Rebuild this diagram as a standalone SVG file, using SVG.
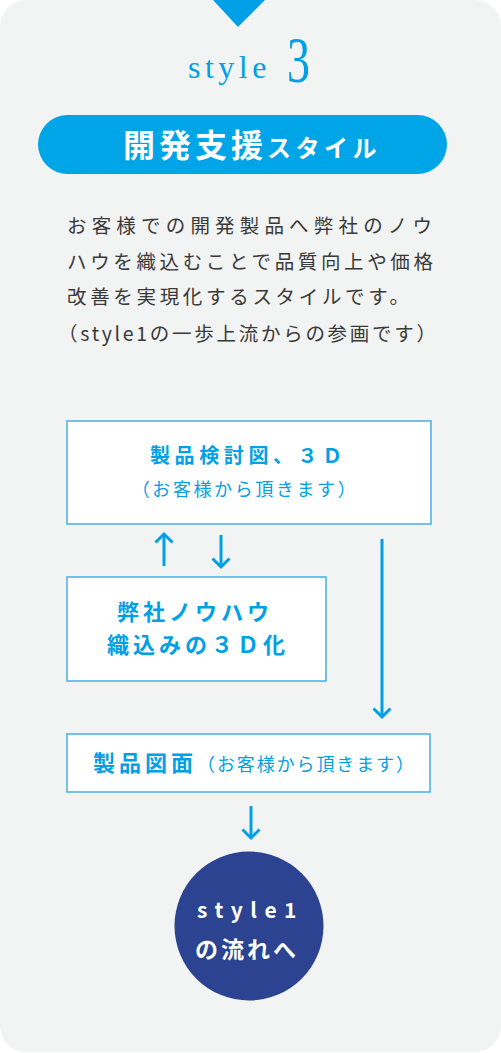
<svg xmlns="http://www.w3.org/2000/svg" width="501" height="1053" viewBox="0 0 501 1053">
<style>
.jp{font-family:"Noto Sans CJK JP","Noto Sans",sans-serif}
.body{font-size:19.5px;fill:#3a3a3a}
.box{fill:#ffffff;stroke:#4fb5e8;stroke-width:1.6}
.bt{fill:#00a0e6;font-weight:bold}
.bn{fill:#00a0e6;font-weight:normal}
.conn{stroke:#00a0e6;stroke-width:3;fill:none;stroke-linecap:butt}
.head{stroke:#00a0e6;stroke-width:3;fill:none;stroke-linejoin:miter}
</style>
<rect x="0" y="0" width="501" height="1053" fill="#ffffff"/>
<rect id="panel" x="0" y="0" width="501" height="1052" rx="26" ry="26" fill="#f2f3f3"/>
<polygon points="213,0 265,0 238,27" fill="#00a0e6"/>
<g id="title">
<text x="188" y="78" font-family="Liberation Serif,serif" font-size="32" letter-spacing="4.5" fill="#00a0e6">style</text>
<text x="287" y="82" font-family="Liberation Serif,serif" font-size="65" fill="#00a0e6" textLength="23" lengthAdjust="spacingAndGlyphs">3</text>
</g>
<g id="pill">
<rect x="38" y="115" width="409" height="59" rx="29.5" fill="#00a5e8"/>
<text x="123" y="157" class="jp" fill="#ffffff" font-weight="bold"><tspan font-size="32" letter-spacing="4">開発支援</tspan><tspan font-size="24" letter-spacing="4.5">スタイル</tspan></text>
</g>
<g id="description" class="jp body">
<text x="67" y="233" textLength="365" lengthAdjust="spacing">お客様での開発製品へ弊社のノウ</text>
<text x="67" y="269" textLength="366" lengthAdjust="spacing">ハウを織込むことで品質向上や価格</text>
<text x="67" y="304" textLength="342" lengthAdjust="spacing">改善を実現化するスタイルです。</text>
<text x="58" y="341" textLength="378" lengthAdjust="spacing">（style1の一歩上流からの参画です）</text>
</g>
<g id="node-3d">
<rect class="box" x="67" y="421" width="364" height="103"/>
<text x="150" y="463" class="jp bt" font-size="20" letter-spacing="4.6">製品検討図、３Ｄ</text>
<text x="245" y="496" class="jp bn" font-size="18" letter-spacing="2.6" text-anchor="middle">（お客様から頂きます）</text>
</g>
<g id="node-knowhow">
<rect class="box" x="67" y="577" width="259" height="104"/>
<text x="195" y="620" class="jp bt" font-size="22" letter-spacing="4" text-anchor="middle">弊社ノウハウ</text>
<text x="107" y="653" class="jp bt" font-size="22" letter-spacing="4">織込みの３Ｄ化</text>
</g>
<g id="node-drawing">
<rect class="box" x="67" y="734" width="363" height="58"/>
<text x="93" y="771" class="jp"><tspan class="bt" font-size="22" letter-spacing="4">製品図面</tspan><tspan class="bn" font-size="18" letter-spacing="1.9" dx="0">（お客様から頂きます）</tspan></text>
</g>
<g id="node-style1">
<circle cx="249" cy="926" r="74.5" fill="#2b4391"/>
<text x="197" y="918" class="jp" fill="#ffffff" font-weight="bold" font-size="21" letter-spacing="7.5">style1</text>
<text x="247" y="958" class="jp" fill="#ffffff" font-weight="bold" font-size="23" letter-spacing="3" text-anchor="middle">の流れへ</text>
</g>
<g id="connectors">
<line class="conn" x1="164" y1="566" x2="164" y2="535"/>
<polyline class="head" points="155.5,542.5 164,534 172.5,542.5"/>
<line class="conn" x1="221" y1="535" x2="221" y2="566"/>
<polyline class="head" points="212.5,558.5 221,567 229.5,558.5"/>
<line class="conn" x1="382" y1="539" x2="382" y2="716"/>
<polyline class="head" points="373.5,708.5 382,717 390.5,708.5"/>
<line class="conn" x1="251" y1="806" x2="251" y2="837"/>
<polyline class="head" points="242.5,829.5 251,838 259.5,829.5"/>
</g>
</svg>
